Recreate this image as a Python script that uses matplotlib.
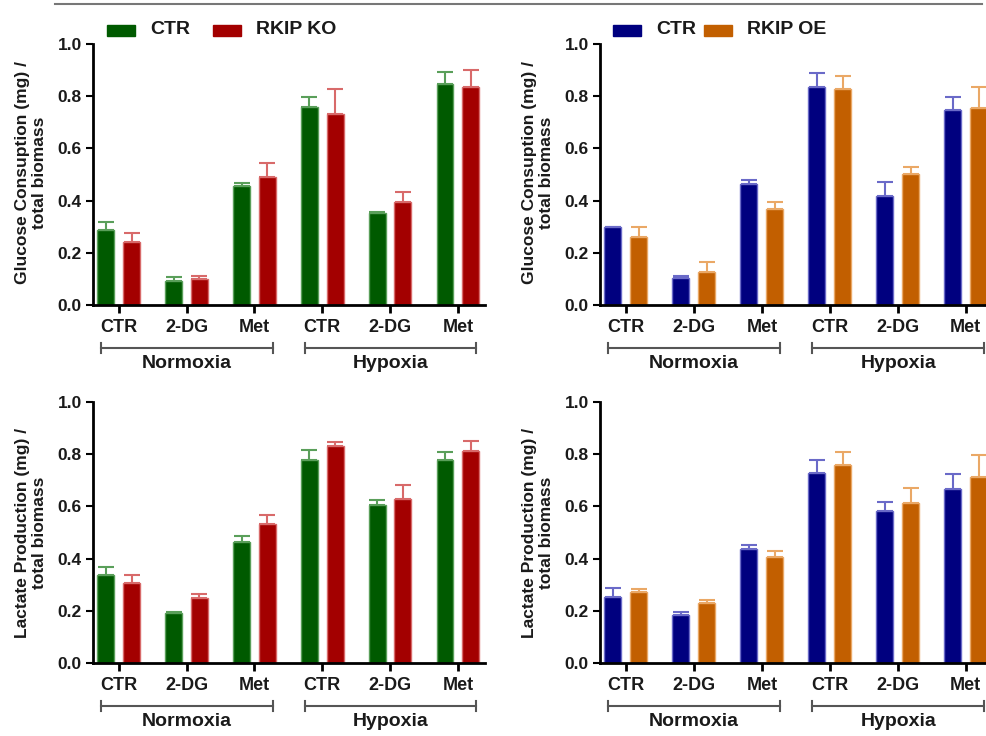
import matplotlib
matplotlib.use("Agg")
import matplotlib.pyplot as plt
import numpy as np

plt.rcParams['font.family'] = ['Liberation Sans', 'DejaVu Sans']
plt.rcParams['font.weight'] = 'bold'

categories = ["CTR", "2-DG", "Met", "CTR", "2-DG", "Met"]
groups = ["Normoxia", "Hypoxia"]

# Top-left: glucose, KO
gluc_ctr_ko = [0.288, 0.093, 0.455, 0.760, 0.352, 0.847]
gluc_ctr_ko_err = [0.029, 0.013, 0.013, 0.037, 0.005, 0.046]
gluc_ko = [0.240, 0.100, 0.491, 0.733, 0.395, 0.836]
gluc_ko_err = [0.037, 0.013, 0.054, 0.094, 0.039, 0.063]

# Top-right: glucose, OE
gluc_ctr_oe = [0.297, 0.104, 0.462, 0.836, 0.418, 0.746]
gluc_ctr_oe_err = [0.002, 0.006, 0.018, 0.053, 0.054, 0.052]
gluc_oe = [0.261, 0.125, 0.368, 0.827, 0.503, 0.753]
gluc_oe_err = [0.037, 0.040, 0.027, 0.050, 0.025, 0.082]

# Bottom-left: lactate, KO
lac_ctr_ko = [0.337, 0.192, 0.465, 0.776, 0.605, 0.779]
lac_ctr_ko_err = [0.030, 0.002, 0.020, 0.039, 0.018, 0.028]
lac_ko = [0.308, 0.248, 0.533, 0.833, 0.630, 0.814]
lac_ko_err = [0.029, 0.015, 0.033, 0.014, 0.051, 0.038]

# Bottom-right: lactate, OE
lac_ctr_oe = [0.254, 0.184, 0.436, 0.729, 0.582, 0.667]
lac_ctr_oe_err = [0.033, 0.011, 0.016, 0.050, 0.036, 0.056]
lac_oe = [0.271, 0.231, 0.405, 0.760, 0.612, 0.713]
lac_oe_err = [0.014, 0.010, 0.025, 0.050, 0.057, 0.084]

GREEN, GREEN_E = "#005a00", "#5a9f5a"
RED, RED_E = "#a30000", "#d86a6a"
BLUE, BLUE_E = "#00007f", "#6a6ac8"
ORANGE, ORANGE_E = "#c25f00", "#eaa866"
TXT = "#1a1a1a"

W, H = 987, 736
fig = plt.figure(figsize=(W / 100, H / 100), dpi=100)


def px_axes(x0, x1, ytop, ybot):
    return fig.add_axes([x0 / W, 1 - ybot / H, (x1 - x0) / W, (ybot - ytop) / H])


def panel(ax, a, ae, b, be, ca, cae, cb, cbe, ylabel, ylab_y):
    x = np.arange(len(categories))
    off, bw = 0.19, 0.25
    ax.bar(x - off, a, bw, color=ca, edgecolor=cae, linewidth=1.0, zorder=2)
    ax.bar(x + off, b, bw, color=cb, edgecolor=cbe, linewidth=1.0, zorder=2)
    ax.errorbar(x - off, a, yerr=[np.zeros(len(a)), ae], fmt='none', ecolor=cae,
                elinewidth=1.5, capsize=5.5, capthick=1.5, zorder=1)
    ax.errorbar(x + off, b, yerr=[np.zeros(len(b)), be], fmt='none', ecolor=cbe,
                elinewidth=1.5, capsize=5.5, capthick=1.5, zorder=1)
    ax.set_xlim(-0.38, 5.4)
    ax.set_ylim(0, 1.0)
    ax.set_yticks([0, 0.2, 0.4, 0.6, 0.8, 1.0])
    ax.set_yticklabels(["0.0", "0.2", "0.4", "0.6", "0.8", "1.0"])
    ax.set_xticks(x)
    ax.set_xticklabels(categories)
    for s in ['top', 'right']:
        ax.spines[s].set_visible(False)
    for s in ['left', 'bottom']:
        ax.spines[s].set_linewidth(2)
    ax.tick_params(axis='y', length=5, width=1.5, labelsize=12.5, pad=3)
    ax.tick_params(axis='x', length=6, width=2, labelsize=13, pad=4)
    for t in ax.get_xticklabels() + ax.get_yticklabels():
        t.set_fontweight('bold')
        t.set_color(TXT)
    ax.set_ylabel(ylabel, fontsize=12.5, fontweight='bold', linespacing=1.15,
                  color=TXT)
    ax.yaxis.set_label_coords(-0.118, ylab_y)
    # group brackets
    trans = ax.get_xaxis_transform()
    for gi, gname in enumerate(groups):
        xs = gi * 3 - 0.26
        xe = gi * 3 + 2 + 0.27
        yb = -0.165
        ax.plot([xs, xe], [yb, yb], color='#555555', lw=1.5, transform=trans,
                clip_on=False)
        for xx in (xs, xe):
            ax.plot([xx, xx], [yb - 0.02, yb + 0.02], color='#555555', lw=1.5,
                    transform=trans, clip_on=False)
        ax.text((xs + xe) / 2, -0.226, gname, transform=trans, ha='center',
                va='center', fontsize=14, fontweight='bold', color=TXT)


ylab_g = "Glucose Consuption (mg) /\ntotal biomass"
ylab_l = "Lactate Production (mg) /\ntotal biomass"

ax1 = px_axes(93, 485, 44, 305)
panel(ax1, gluc_ctr_ko, gluc_ctr_ko_err, gluc_ko, gluc_ko_err,
      GREEN, GREEN_E, RED, RED_E, ylab_g, 0.508)
ax2 = px_axes(600, 993, 44, 305)
panel(ax2, gluc_ctr_oe, gluc_ctr_oe_err, gluc_oe, gluc_oe_err,
      BLUE, BLUE_E, ORANGE, ORANGE_E, ylab_g, 0.508)
ax3 = px_axes(93, 485, 402, 663)
panel(ax3, lac_ctr_ko, lac_ctr_ko_err, lac_ko, lac_ko_err,
      GREEN, GREEN_E, RED, RED_E, ylab_l, 0.5)
ax4 = px_axes(600, 993, 402, 663)
panel(ax4, lac_ctr_oe, lac_ctr_oe_err, lac_oe, lac_oe_err,
      BLUE, BLUE_E, ORANGE, ORANGE_E, ylab_l, 0.5)

# top rule
fig.add_artist(plt.Line2D([55 / W, 982 / W], [1 - 4 / H, 1 - 4 / H],
                          color='#777777', lw=1.5))

# legends
def legend_item(xp, color, label):
    fig.add_artist(plt.Rectangle((xp / W, 1 - 36 / H), 28 / W, 11 / H,
                                 color=color, transform=fig.transFigure))
    fig.text((xp + 43) / W, 1 - 30 / H, label, fontsize=14, fontweight='bold',
             va='center', ha='left', color=TXT)

legend_item(107, GREEN, "CTR")
legend_item(213, RED, "RKIP KO")
legend_item(613, BLUE, "CTR")
legend_item(704, ORANGE, "RKIP OE")

fig.savefig("out.png", dpi=100)
